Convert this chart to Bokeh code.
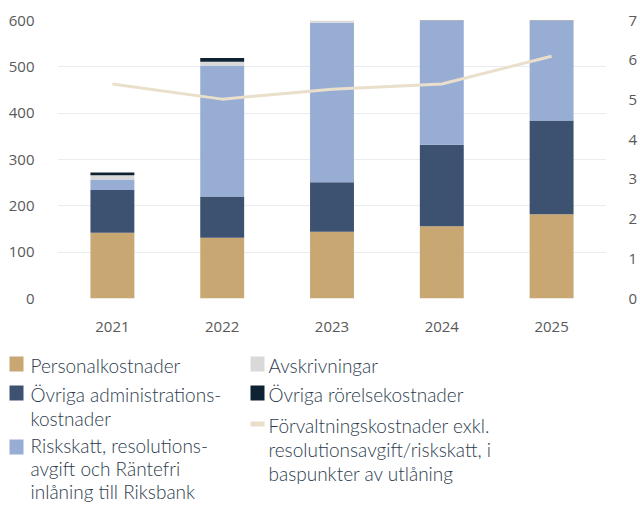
from bokeh.plotting import figure
from bokeh.layouts import column
from bokeh.models import Range1d, LinearAxis, SingleIntervalTicker, ColumnDataSource
from bokeh.core.properties import value
from bokeh.embed import file_html
from bokeh.resources import INLINE

years = ["2021", "2022", "2023", "2024", "2025"]
personal = [142, 131, 144, 156, 182]
admin = [92, 89, 107, 176, 202]
risk = [23, 283, 344, 300, 250]
avskr = [9, 8, 5, 8, 8]
ovriga = [6, 8, 4, 6, 6]
bp = [5.40, 5.02, 5.27, 5.40, 6.10]

colors = ["#C8A772", "#3D5170", "#97ADD3", "#D9D9D9", "#0D2233"]
line_color = "#E9DFCB"

left_legend_lines = [["Personalkostnader"],
                     ["Övriga administrations-", "kostnader"],
                     ["Riskskatt, resolutions-", "avgift och Räntefri", "inlåning till Riksbank"]]
right_legend_lines = [["Avskrivningar"],
                      ["Övriga rörelsekostnader"],
                      ["Förvaltningskostnader exkl.", "resolutionsavgift/riskskatt, i", "baspunkter av utlåning"]]

tick_font = "Open Sans"
tick_color = "#595959"
legend_font = "'Lato Light', Lato"
legend_color = "#2C3B4D"

W, H1, H2 = 640, 340, 164
FL, FR, FT, FB = 57, 610, 20, 298  # frame edges in page pixels

src = ColumnDataSource(dict(year=years, personal=personal, admin=admin, risk=risk,
                            avskr=avskr, ovriga=ovriga, bp=bp))

p = figure(x_range=years, y_range=Range1d(0, 600), width=W, height=H1,
           output_backend="svg", toolbar_location=None,
           min_border_left=FL, min_border_right=W - FR, min_border_top=FT,
           min_border_bottom=H1 - FB)
p.frame_align = False
p.outline_line_color = None
p.background_fill_color = "white"
p.border_fill_color = "white"

p.vbar_stack(["personal", "admin", "risk", "avskr", "ovriga"], x="year", width=0.4,
             color=colors, line_color=None, source=src)

p.extra_y_ranges = {"bp": Range1d(0, 7)}
p.line(x="year", y="bp", source=src, y_range_name="bp", line_color=line_color,
       line_width=3, line_join="round")

rax = LinearAxis(y_range_name="bp", ticker=SingleIntervalTicker(interval=1))
p.add_layout(rax, "right")

p.yaxis[0].ticker = SingleIntervalTicker(interval=100)
for ax in p.yaxis + p.xaxis:
    ax.axis_line_color = None
    ax.major_tick_line_color = None
    ax.minor_tick_line_color = None
    ax.major_label_text_font = tick_font
    ax.major_label_text_font_size = "15px"
    ax.major_label_text_color = tick_color
p.yaxis[0].major_label_standoff = 17
rax.major_label_standoff = 16
p.xaxis.major_label_standoff = 17
p.xgrid.grid_line_color = None
p.ygrid.grid_line_color = "#E9EDF1"
p.ygrid.grid_line_width = 1
p.ygrid.ticker = SingleIntervalTicker(interval=100)

# ---- legend figure in pixel coordinates (y downward) ----
leg = figure(width=W, height=H2, x_range=Range1d(0, W), y_range=Range1d(H2, 0),
             output_backend="svg", toolbar_location=None,
             min_border=0, min_border_left=0, min_border_right=0,
             min_border_top=0, min_border_bottom=0)
leg.frame_align = False
leg.axis.visible = False
leg.grid.visible = False
leg.outline_line_color = None

OY = H1  # legend figure top in page pixels

sq_x = [16, 16, 16, 257, 257]
sq_y = [363.5, 392.5, 446.5, 363.5, 392.5]
leg.rect(x=sq_x, y=[v - OY for v in sq_y], width=14, height=15,
         fill_color=colors, line_color=None)
leg.line(x=[250, 264], y=[423.5 - OY, 423.5 - OY], line_color=line_color, line_width=5)

left_base = [[365], [394, 418], [445, 468, 491]]
right_base = [[365], [394], [425, 449, 473]]
tx, ty, tt = [], [], []
for col_x, groups, bases in [(30, left_legend_lines, left_base), (268, right_legend_lines, right_base)]:
    for lines, bs in zip(groups, bases):
        for t, b in zip(lines, bs):
            tx.append(col_x); ty.append(b - OY); tt.append(t)
leg.text(x=tx, y=ty, text=tt, text_baseline="alphabetic", text_align="left",
         text_font=value(legend_font), text_font_size="19px", text_color=legend_color)

layout = column(p, leg, spacing=0)
open("out.html", "w").write(file_html(layout, INLINE))
